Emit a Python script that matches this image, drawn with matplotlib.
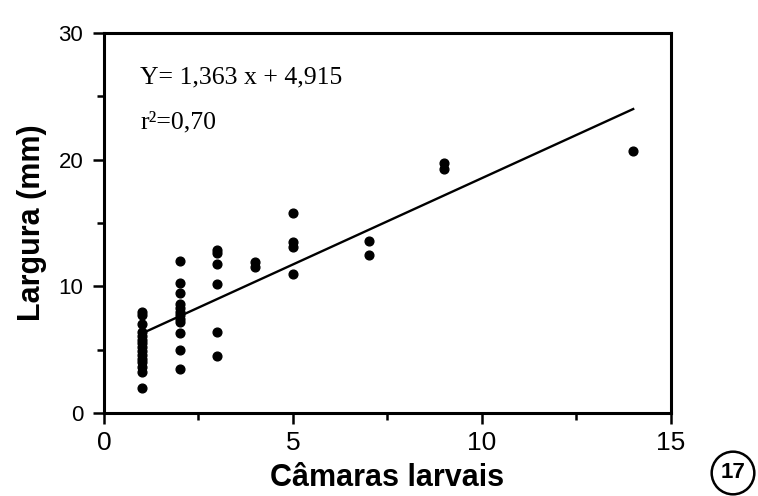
import numpy as np
import matplotlib
matplotlib.use('Agg')
import matplotlib.pyplot as plt
from matplotlib.ticker import MultipleLocator

# values (camaras larvais vs largura)
x_1 = [1] * 15
y_1 = [8.0, 7.7, 7.0, 6.4, 6.1, 5.8, 5.5, 5.2, 4.9, 4.6, 4.3, 4.0, 3.6, 3.2, 2.0]
x_2 = [2] * 12
y_2 = [12.0, 10.3, 9.5, 8.6, 8.3, 8.0, 7.7, 7.4, 7.2, 6.3, 5.0, 3.5]
x_3 = [3] * 6
y_3 = [12.9, 12.6, 11.8, 10.2, 6.4, 4.5]
x_rest = [4, 4, 5, 5, 5, 5, 7, 7, 9, 9, 14]
y_rest = [11.9, 11.5, 15.8, 13.5, 13.1, 11.0, 13.6, 12.5, 19.7, 19.3, 20.7]

slope = 1.363
intercept = 4.915
r2 = 0.70
fit_range = [1, 14]

x_all = x_1 + x_2 + x_3 + x_rest
y_all = y_1 + y_2 + y_3 + y_rest

sans = ['Liberation Sans', 'DejaVu Sans']
serif = ['Liberation Serif', 'DejaVu Serif']

fig = plt.figure(figsize=(7.58, 4.96), dpi=100)
ax = fig.add_axes([0.1372, 0.1673, 0.7480, 0.7662])

ax.plot(x_all, y_all, 'o', color='black', markersize=6.3, zorder=3)

x_fit = np.array(fit_range)
ax.plot(x_fit, np.polyval([slope, intercept], x_fit), color='black', linewidth=1.7)

ax.set_xlim(0, 15)
ax.set_ylim(0, 30)
ax.xaxis.set_major_locator(MultipleLocator(5))
ax.xaxis.set_minor_locator(MultipleLocator(2.5))
ax.yaxis.set_major_locator(MultipleLocator(10))
ax.yaxis.set_minor_locator(MultipleLocator(5))

for s in ax.spines.values():
    s.set_linewidth(2.2)
ax.tick_params(which='major', direction='out', length=8, width=1.8)
ax.tick_params(which='minor', direction='out', length=5, width=1.8)
ax.tick_params(axis='x', which='major', pad=5)
ax.tick_params(axis='y', which='major', pad=7)

for lab in ax.get_xticklabels():
    lab.set_family(sans)
    lab.set_fontsize(19)
for lab in ax.get_yticklabels():
    lab.set_family(sans)
    lab.set_fontsize(16)

ax.set_xlabel('Câmaras larvais', family=sans, fontsize=22, fontweight='bold', labelpad=6)
ax.set_ylabel('Largura (mm)', family=sans, fontsize=22, fontweight='bold', labelpad=8)

eq = 'Y= ' + f'{slope:.3f}'.replace('.', ',') + ' x + ' + f'{intercept:.3f}'.replace('.', ',')
ax.text(0.0635, 0.868, eq, transform=ax.transAxes, family=serif, fontsize=18.5, va='baseline')
ax.text(0.0635, 0.75, 'r²=' + f'{r2:.2f}'.replace('.', ','), transform=ax.transAxes,
        family=serif, fontsize=18.5, va='baseline')

fig.text(733 / 758, 1 - 473 / 496, '17', family=sans, fontsize=16, fontweight='bold',
         ha='center', va='center',
         bbox=dict(boxstyle='circle,pad=0.4', facecolor='white', edgecolor='black', linewidth=1.8))

fig.savefig('out.png', dpi=100, facecolor='white')
